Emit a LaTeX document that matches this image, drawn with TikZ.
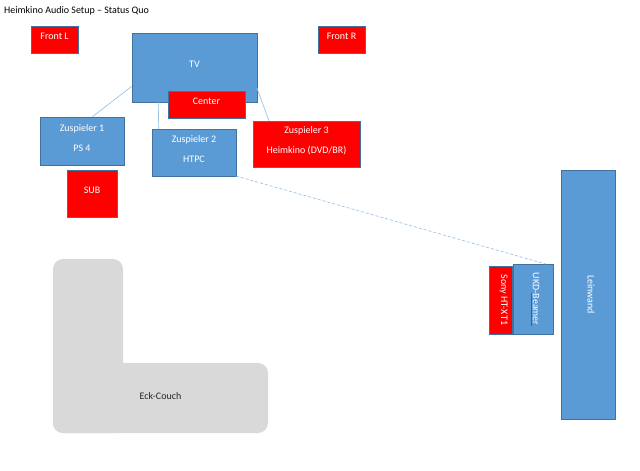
\documentclass[tikz,border=0pt]{standalone}
\usepackage{fontspec}
\setmainfont{Carlito}
\usetikzlibrary{calc}
\definecolor{boxblue}{HTML}{5B9BD5}
\definecolor{edgeblue}{HTML}{41719C}
\definecolor{linkblue}{HTML}{9DC3E6}
\definecolor{couchgray}{HTML}{D9D9D9}
\definecolor{squiggle}{HTML}{B0305A}
\tikzset{
  x=1pt, y=-1pt,
  every node/.style={font=\fontsize{10}{12}\selectfont},
  bluebox/.style={draw=edgeblue, line width=0.75pt, fill=boxblue, inner sep=0pt, outer sep=0pt},
  redbox/.style={draw=edgeblue, line width=0.75pt, fill=red, inner sep=0pt, outer sep=0pt},
  lbl/.style={text=white, align=center, inner sep=0pt, yshift=3pt},
  rlbl/.style={text=white, inner sep=0pt, xshift=3pt, rotate=-90},
  link/.style={draw=linkblue, line width=0.7pt},
  dlink/.style={draw=linkblue, line width=0.7pt, dash pattern=on 3pt off 2pt},
  couch/.style={fill=couchgray, draw=none, rounded corners=10pt, inner sep=0pt}
}
\newcommand{\boxat}[6]{% style, name, x1, y1, x2, y2
  \node[#1, minimum width={(#5-#3)*1pt}, minimum height={(#6-#4)*1pt}] (#2) at ({(#3+#5)/2},{(#4+#6)/2}) {};}
\begin{document}
\begin{tikzpicture}
\useasboundingbox (0,0) rectangle (640,471);
\node[anchor=west, inner sep=0pt] (title) at (4,11) {Heimkino Audio Setup -- Status Quo};

% couch
\fill[couch] (53,259) rectangle (123,433);
\fill[couch] (53,363) rectangle (268,433);
\node[inner sep=0pt, text=black!85] (couchlbl) at (160.5,396) {Eck-Couch};

% boxes
\boxat{redbox}{fl}{31}{26}{78}{53}
\boxat{redbox}{fr}{318}{26}{365}{53}
\boxat{bluebox}{tv}{132}{33}{257}{102}
\boxat{redbox}{center}{168}{91}{245}{118}
\boxat{bluebox}{zs1}{40}{117}{124}{165}
\boxat{bluebox}{zs2}{152}{129}{236}{176}
\boxat{redbox}{zs3}{253}{121}{360}{167}
\boxat{redbox}{sub}{67}{170}{117}{217}
\boxat{bluebox}{lw}{561}{170}{615}{419}
\boxat{bluebox}{bm}{513}{264}{553}{334}
\boxat{redbox}{sony}{489}{266}{512}{334}

% labels
\node[lbl] (flt) at (fl.center) {Front L};
\node[lbl] (frt) at (fr.center) {Front R};
\node[lbl] (tvt) at (tv.center) {TV};
\node[lbl] (cet) at (center.center) {Center};
\node[lbl] (zs1t) at (zs1.center) {Zuspieler 1\\[8pt]PS 4};
\node[lbl] (zs2t) at (zs2.center) {Zuspieler 2\\[8pt]HTPC};
\node[lbl] (zs3t) at (zs3.center) {Zuspieler 3\\[8pt]Heimkino (DVD/BR)};
\node[lbl] (subt) at (sub.center) {SUB};
\node[rlbl] (lwt) at (lw.center) {Leinwand};
\node[rlbl] (bmt) at (bm.center) {UKD-Beamer};
\node[rlbl] (sonyt) at (sony.center) {Sony HT-XT1};
\draw[squiggle, line width=0.6pt] (531,293) -- (531,326);

% connectors
\draw[link] ($(tv.north west)!0.77!(tv.south west)$) -- ($(zs1.north west)!0.62!(zs1.north east)$);
\draw[link] ($(tv.south west)!0.21!(tv.south east)$) -- ($(zs2.north west)!0.08!(zs2.north east)$);
\draw[link] ($(tv.north east)!0.8!(tv.south east)$) -- ($(zs3.north west)!0.15!(zs3.north east)$);
\draw[dlink] (zs2.south east) -- ($(bm.north west)!0.82!(bm.north east)$);
\end{tikzpicture}
\end{document}
